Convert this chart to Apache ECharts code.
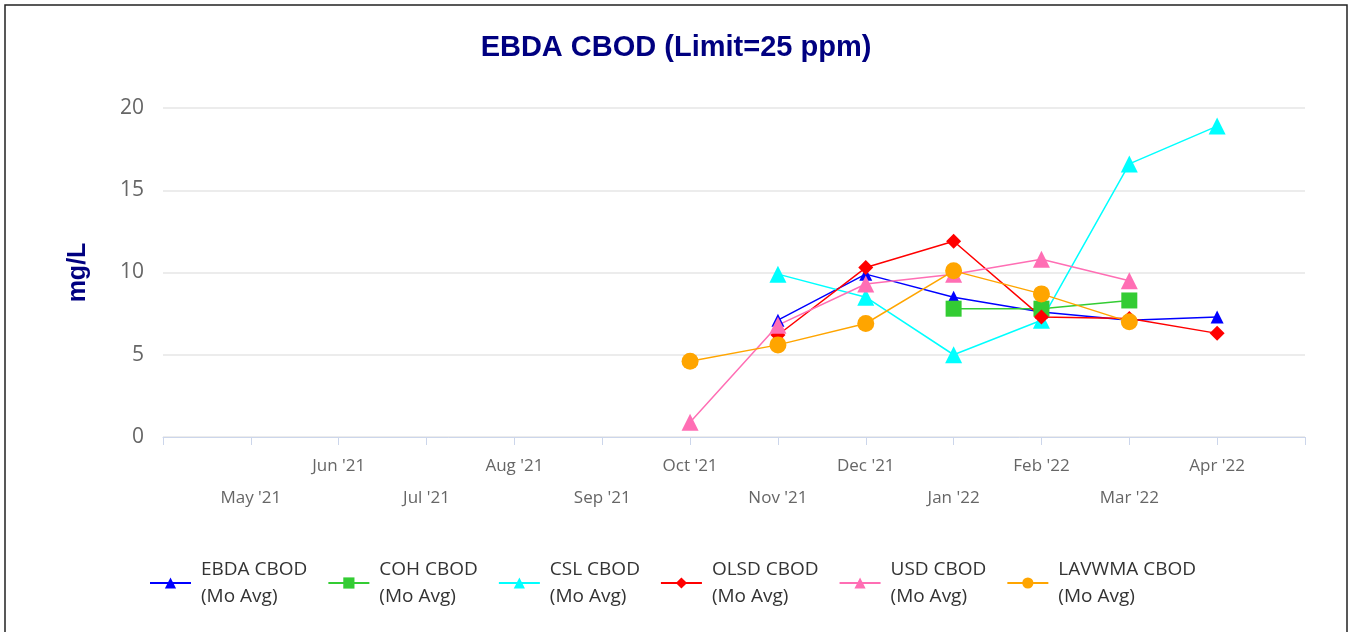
<!DOCTYPE html>
<html>
<head>
<meta charset="utf-8">
<script src="https://cdn.jsdelivr.net/npm/echarts@6/dist/echarts.min.js"></script>
<style>
  html, body { margin: 0; padding: 0; background: #fff; }
  #chart { width: 1352px; height: 632px; }
</style>
</head>
<body>
<div id="chart"></div>
<script>
// months on the axis, blank slots at both ends
var months = ['', "May '21", "Jun '21", "Jul '21", "Aug '21", "Sep '21", "Oct '21", "Nov '21",
  "Dec '21", "Jan '22", "Feb '22", "Mar '22", "Apr '22", ''];

// monthly averages (mg/L), null = no data
var ebda   = [null, null, null, null, null, null, null, 7.1, 9.9, 8.5, 7.6, 7.1, 7.3, null];
var coh    = [null, null, null, null, null, null, null, null, null, 7.8, 7.8, 8.3, null, null];
var csl    = [null, null, null, null, null, null, null, 9.9, 8.5, 5.0, 7.1, 16.6, 18.9, null];
var olsd   = [null, null, null, null, null, null, null, 6.2, 10.3, 11.9, 7.3, 7.2, 6.3, null];
var usd    = [null, null, null, null, null, null, 0.9, 6.8, 9.3, 9.9, 10.8, 9.5, null, null];
var lavwma = [null, null, null, null, null, null, 4.6, 5.6, 6.9, 10.1, 8.7, 7.0, null, null];

var yTicks = [0, 5, 10, 15, 20];

var chart = echarts.init(document.getElementById('chart'));

function line(name, data, color, symbol, size) {
  return {
    name: name,
    type: 'line',
    data: data,
    color: color,
    symbol: symbol,
    symbolSize: size,
    lineStyle: { width: 1.5 },
    itemStyle: { color: color },
    connectNulls: false
  };
}

var option = {
  animation: false,
  title: {
    text: 'EBDA CBOD (Limit=25 ppm)',
    left: 'center',
    top: 28,
    textStyle: { fontFamily: 'Liberation Sans', fontWeight: 'bold', fontSize: 29, color: '#000080' }
  },
  graphic: [{
    type: 'rect',
    shape: { x: 5, y: 5, width: 1342, height: 640 },
    style: { fill: 'none', stroke: '#222', lineWidth: 1.5 },
    silent: true
  }],
  legend: {
    left: 144,
    top: 551,
    itemWidth: 41,
    itemHeight: 14,
    itemGap: 20,
    formatter: function (name) { return name + '\n(Mo Avg)'; },
    textStyle: { fontFamily: 'Open Sans', fontSize: 19, color: '#333', lineHeight: 27, padding: [0, 0, 0, 5] }
  },
  grid: { left: 163, right: 47, top: 108, bottom: 195 },
  xAxis: {
    type: 'category',
    data: months,
    boundaryGap: false,
    axisLine: { lineStyle: { color: '#ccd6eb' } },
    axisTick: { show: true, length: 8, lineStyle: { color: '#ccd6eb' }, interval: 0 },
    splitLine: { show: false },
    axisLabel: {
      interval: 0,
      margin: 13,
      fontFamily: 'Open Sans',
      fontSize: 17,
      color: '#666',
      lineHeight: 32,
      formatter: function (val, idx) { return idx % 2 === 1 ? '\n' + val : val; }
    }
  },
  yAxis: {
    type: 'value',
    min: yTicks[0],
    max: yTicks[yTicks.length - 1],
    interval: 5,
    name: 'mg/L',
    nameLocation: 'middle',
    nameGap: 72,
    nameRotate: 90,
    nameTextStyle: { fontFamily: 'Liberation Sans', fontWeight: 'bold', fontSize: 25, color: '#000080' },
    axisLine: { show: false },
    axisTick: { show: false },
    splitLine: { lineStyle: { color: '#e6e6e6', width: 1.5 } },
    axisLabel: { margin: 19, fontFamily: 'Open Sans', fontSize: 21, color: '#666' }
  },
  series: [
    line('EBDA CBOD', ebda, '#0000ff', 'triangle', 13),
    line('COH CBOD', coh, '#33cc33', 'rect', 16),
    line('CSL CBOD', csl, '#00ffff', 'triangle', 17),
    line('OLSD CBOD', olsd, '#ff0000', 'diamond', 15),
    line('USD CBOD', usd, '#ff6eb4', 'triangle', 17),
    line('LAVWMA CBOD', lavwma, '#ffa500', 'circle', 17)
  ]
};

chart.setOption(option);
</script>
</body>
</html>
